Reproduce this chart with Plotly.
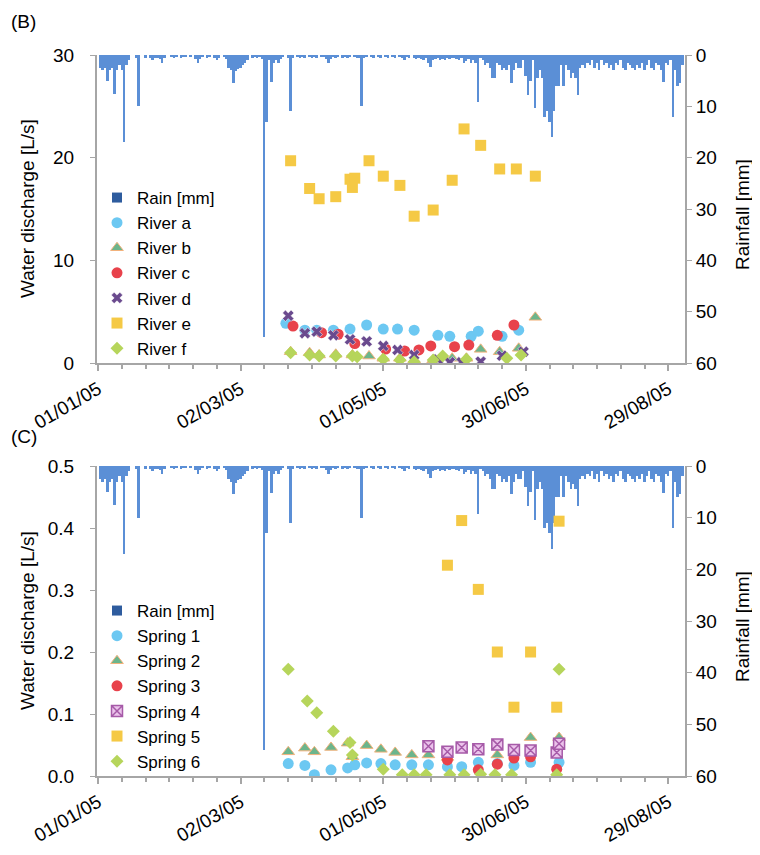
import plotly.graph_objects as go
import pandas as pd

# ---------------- data ----------------
# daily rainfall [mm] starting 2005-01-01
rain_start = "2005-01-01"
rain_mm = [
    0, 2.5, 3, 2.5, 5, 3, 2.5, 7.5, 3, 2, 3, 17, 2, 1, 0, 0, 0.5, 10, 0, 0,
    0.5, 0, 0.5, 1, 0.5, 0.5, 0.8, 1.5, 0.5, 0, 0, 0.3, 0.5, 0.3, 0, 0.5, 0.3, 0.4, 0, 0.3,
    0, 0.8, 1.5, 0.8, 0.3, 0, 0.5, 0.4, 0, 0.5, 1, 0.5, 0, 0.3, 0.8, 2.5, 3, 5.5, 3.2, 2.8,
    2.5, 2, 1.5, 1, 0, 0.5, 0.4, 0.5, 0.3, 0.8, 55, 13, 1, 5.3, 1.5, 1, 1.5, 0.8, 0.3, 0,
    0.5, 11, 0.5, 0, 0.3, 0.5, 0.3, 0.5, 0, 0.4, 0.5, 0.3, 0.5, 0, 0.4, 0.3, 0.8, 1.5, 0.8, 0.3,
    0.5, 0.4, 0, 0.5, 0.3, 0.5, 0.4, 0, 0.3, 0.5, 0.5, 10, 0.5, 0.3, 0, 0.4, 0.5, 0, 0.3, 0.5,
    0, 0.4, 0.5, 0, 0.3, 0.5, 0, 0.4, 0.5, 1, 0.3, 0.5, 0, 0.5, 0.8, 0.5, 0.8, 1, 0.5, 1.5,
    2.3, 1, 0.8, 0.5, 1, 0.8, 1, 0.5, 0.8, 0.5, 0.5, 0.8, 1, 0.5, 1.5, 1.2, 0.8, 1.5, 1, 1.5,
    9.2, 0.5, 1, 2, 1.5, 2.5, 4.5, 4.5, 1.5, 2, 3, 2.5, 3, 2, 5.4, 3, 1.5, 2.5, 2.5, 1,
    4, 7.8, 5, 1, 10.4, 4.5, 3, 4.5, 12, 11, 13, 16, 11, 6, 6, 2, 6, 2, 3, 4.5,
    3.5, 4.5, 7.8, 2.5, 2, 2.5, 1.5, 2, 1, 2.5, 1.5, 3, 1, 2, 1.5, 2.5, 2, 3, 1.5, 2,
    1, 2.5, 3, 1.5, 2, 2.5, 3, 2, 2.5, 1.5, 3, 2, 1, 2.5, 3, 1.5, 2, 3, 5.2, 1.5,
    2, 1, 12, 3, 6, 5.5, 2,
]

# Panel B – rivers [L/s]
river_a_dates = ["2005-03-21", "2005-03-29", "2005-04-03", "2005-04-10", "2005-04-17", "2005-04-24",
                 "2005-05-01", "2005-05-07", "2005-05-14", "2005-05-24", "2005-05-29", "2005-06-07",
                 "2005-06-10", "2005-06-20", "2005-06-27"]
river_a = [3.86, 3.2, 3.2, 3.2, 3.3, 3.7, 3.3, 3.3, 3.2, 2.7, 2.6, 2.6, 3.1, 2.6, 3.2]

river_b_dates = ["2005-03-23", "2005-03-31", "2005-04-04", "2005-04-11", "2005-04-18", "2005-04-25",
                 "2005-05-01", "2005-05-08", "2005-05-14", "2005-05-22", "2005-05-30", "2005-06-05",
                 "2005-06-11", "2005-06-19", "2005-06-27", "2005-07-04"]
river_b = [1.1, 1.0, 0.78, 0.85, 0.78, 0.68, 0.46, 0.46, 0.29, 0.29, 0.46, 0.46, 1.33, 1.1, 1.43, 4.45]

river_c_dates = ["2005-03-24", "2005-04-05", "2005-04-12", "2005-04-19", "2005-05-02", "2005-05-10",
                 "2005-05-16", "2005-05-21", "2005-05-31", "2005-06-06", "2005-06-18", "2005-06-25"]
river_c = [3.6, 2.95, 2.8, 1.9, 1.36, 1.17, 1.27, 1.66, 1.59, 1.75, 2.7, 3.7]

river_d_dates = ["2005-03-22", "2005-03-29", "2005-04-03", "2005-04-10", "2005-04-17", "2005-04-24",
                 "2005-05-01", "2005-05-07", "2005-05-14", "2005-05-24", "2005-05-29", "2005-06-03",
                 "2005-06-11", "2005-06-20", "2005-06-29"]
river_d = [4.6, 2.9, 3.05, 2.7, 2.3, 2.1, 1.66, 1.27, 0.78, 0.36, 0.07, 0.07, 0.13, 0.71, 1.1]

river_e_dates = ["2005-03-23", "2005-03-31", "2005-04-04", "2005-04-11", "2005-04-17", "2005-04-18",
                 "2005-04-19", "2005-04-25", "2005-05-01", "2005-05-08", "2005-05-14", "2005-05-22",
                 "2005-05-30", "2005-06-04", "2005-06-11", "2005-06-19", "2005-06-26", "2005-07-04"]
river_e = [19.7, 17.0, 16.0, 16.2, 17.9, 17.1, 18.0, 19.7, 18.2, 17.3, 14.3, 14.9, 17.8, 22.8,
           21.2, 18.9, 18.9, 18.2]

river_f_dates = ["2005-03-23", "2005-03-31", "2005-04-04", "2005-04-11", "2005-04-18", "2005-04-20",
                 "2005-05-01", "2005-05-08", "2005-05-14", "2005-05-22", "2005-05-26", "2005-06-05",
                 "2005-06-22", "2005-06-28"]
river_f = [1.0, 0.78, 0.68, 0.68, 0.68, 0.6, 0.36, 0.29, 0.13, 0.29, 0.68, 0.36, 0.46, 0.78]

# Panel C – springs [L/s]
spring_1_dates = ["2005-03-22", "2005-03-29", "2005-04-02", "2005-04-09", "2005-04-16", "2005-04-19",
                  "2005-04-24", "2005-04-30", "2005-05-06", "2005-05-13", "2005-05-20", "2005-05-28",
                  "2005-06-03", "2005-06-10", "2005-06-18", "2005-06-25", "2005-07-02", "2005-07-14"]
spring_1 = [0.020, 0.017, 0.002, 0.010, 0.013, 0.018, 0.021, 0.020, 0.018, 0.018, 0.018, 0.015,
            0.015, 0.022, 0.020, 0.017, 0.022, 0.022]

spring_2_dates = ["2005-03-22", "2005-03-29", "2005-04-02", "2005-04-09", "2005-04-16", "2005-04-18",
                  "2005-04-24", "2005-04-30", "2005-05-06", "2005-05-13", "2005-05-20", "2005-05-28",
                  "2005-06-18", "2005-07-02", "2005-07-14"]
spring_2 = [0.039, 0.045, 0.039, 0.046, 0.053, 0.031, 0.049, 0.043, 0.038, 0.034, 0.034, 0.030,
            0.034, 0.062, 0.062]

spring_3_dates = ["2005-05-28", "2005-06-10", "2005-06-18", "2005-06-25", "2005-07-02", "2005-07-13",
                  "2005-07-14"]
spring_3 = [0.026, 0.010, 0.019, 0.029, 0.031, 0.011, 0.048]

spring_4_dates = ["2005-05-20", "2005-05-28", "2005-06-03", "2005-06-10", "2005-06-18", "2005-06-25",
                  "2005-07-02", "2005-07-13", "2005-07-14"]
spring_4 = [0.048, 0.039, 0.046, 0.043, 0.051, 0.042, 0.041, 0.038, 0.052]

spring_5_dates = ["2005-05-28", "2005-06-03", "2005-06-10", "2005-06-18", "2005-06-25", "2005-07-02",
                  "2005-07-13", "2005-07-14"]
spring_5 = [0.340, 0.412, 0.301, 0.200, 0.111, 0.200, 0.111, 0.411]

spring_6_dates = ["2005-03-22", "2005-03-30", "2005-04-03", "2005-04-10", "2005-04-17", "2005-04-18",
                  "2005-05-01", "2005-05-09", "2005-05-14", "2005-05-19", "2005-05-29", "2005-06-04",
                  "2005-06-11", "2005-06-17", "2005-06-24", "2005-07-13", "2005-07-14"]
spring_6 = [0.172, 0.121, 0.102, 0.072, 0.054, 0.034, 0.011, 0.002, 0.002, 0.002, 0.002, 0.002,
            0.003, 0.002, 0.002, 0.002, 0.172]

date_ticks_start = "2005-01-01"
date_range = ["2004-12-31 12:00", "2005-09-05"]
b_ticks = [0, 10, 20, 30]
c_ticks = [0.0, 0.1, 0.2, 0.3, 0.4, 0.5]
rain_ticks = [0, 10, 20, 30, 40, 50, 60]

# ---------------- styling ----------------
FONT = "Liberation Sans, Arial, Helvetica, sans-serif"
RAIN_COLOR = "#5B8FD6"
AXIS_COLOR = "#A6A6A6"
DAY = 86400000

styles = {
    "a": dict(symbol="circle", size=11, color="#6CC8F2", line=dict(width=0)),
    "b": dict(symbol="triangle-up", size=11, color="#6CB58C", line=dict(width=1, color="#F2B27C")),
    "c": dict(symbol="circle", size=11, color="#E8424B", line=dict(width=0)),
    "d": dict(symbol="x", size=10, color="#6A4A8E", line=dict(width=0.5, color="white")),
    "e": dict(symbol="square", size=11, color="#F5C945", line=dict(width=0)),
    "f": dict(symbol="diamond", size=10, color="#B6D55B", line=dict(width=0)),
}
spring_styles = {
    "1": styles["a"],
    "2": styles["b"],
    "3": styles["c"],
    "4": dict(symbol="square-x", size=11, color="#EBC3EB", line=dict(width=1.5, color="#A65AA8")),
    "5": styles["e"],
    "6": styles["f"],
}

rain_dates = pd.date_range(rain_start, periods=len(rain_mm), freq="D")

fig = go.Figure()

# ---- Panel B ----
fig.add_trace(go.Bar(x=rain_dates, y=rain_mm, xaxis="x", yaxis="y", marker=dict(color=RAIN_COLOR, line=dict(width=0)),
                     width=0.8 * DAY, showlegend=False, name="Rain [mm]"))
fig.add_trace(go.Scatter(x=[None], y=[None], xaxis="x", yaxis="y2", mode="markers", name="Rain [mm]",
                         marker=dict(symbol="square", size=10, color="#2E5C9E"), legend="legend"))
for key, dates, vals in [("a", river_a_dates, river_a), ("b", river_b_dates, river_b),
                         ("c", river_c_dates, river_c), ("d", river_d_dates, river_d),
                         ("e", river_e_dates, river_e), ("f", river_f_dates, river_f)]:
    fig.add_trace(go.Scatter(x=dates, y=vals, xaxis="x", yaxis="y2", mode="markers",
                             name=f"River {key}", marker=styles[key], legend="legend"))

# ---- Panel C ----
fig.add_trace(go.Bar(x=rain_dates, y=rain_mm, xaxis="x2", yaxis="y3", marker=dict(color=RAIN_COLOR, line=dict(width=0)),
                     width=0.8 * DAY, showlegend=False, name="Rain [mm]"))
fig.add_trace(go.Scatter(x=[None], y=[None], xaxis="x2", yaxis="y4", mode="markers", name="Rain [mm]",
                         marker=dict(symbol="square", size=10, color="#2E5C9E"), legend="legend2"))
for key, dates, vals in [("1", spring_1_dates, spring_1), ("2", spring_2_dates, spring_2),
                         ("3", spring_3_dates, spring_3), ("4", spring_4_dates, spring_4),
                         ("5", spring_5_dates, spring_5), ("6", spring_6_dates, spring_6)]:
    fig.add_trace(go.Scatter(x=dates, y=vals, xaxis="x2", yaxis="y4", mode="markers",
                             name=f"Spring {key}", marker=spring_styles[key], legend="legend2"))

# geometry (pixels); page body has an 8px margin
OFF = 8
W, H = 760 - OFF, 855 - OFF
ML, MR, MT, MB = 97 - OFF, 75, 55 - OFF, 79
PH = H - MT - MB
PW = W - ML - MR


def py(ypx):
    return (H - MB - (ypx - OFF)) / PH


def px(xpx):
    return ((xpx - OFF) - ML) / PW


tickfont = dict(family=FONT, size=19, color="black")

xcommon = dict(type="date", range=date_range, tick0=date_ticks_start, dtick=60 * DAY,
               tickformat="%d/%m/%y", tickangle=-30, ticks="outside", ticklen=6, tickwidth=1.5,
               tickcolor=AXIS_COLOR, showline=True, linecolor=AXIS_COLOR, linewidth=2,
               showgrid=False, zeroline=False, tickfont=tickfont,
               minor=dict(dtick=10 * DAY, tick0=date_ticks_start, ticks="outside", ticklen=4,
                          tickcolor=AXIS_COLOR, showgrid=False))

rain_axis = dict(side="right", range=[60, 0], tickvals=rain_ticks, ticks="outside", ticklen=5,
                 tickcolor=AXIS_COLOR, showline=True, linecolor=AXIS_COLOR, linewidth=2,
                 showgrid=False, zeroline=False, tickfont=tickfont)

left_axis = dict(side="left", ticks="outside", ticklen=5, tickcolor=AXIS_COLOR, showline=True,
                 linecolor=AXIS_COLOR, linewidth=2, showgrid=False, zeroline=False,
                 tickfont=tickfont, ticklabelstandoff=12)

title_font = dict(family=FONT, size=19, color="black")

fig.update_layout(
    width=W, height=H,
    margin=dict(l=ML, r=MR, t=MT, b=MB, autoexpand=False),
    paper_bgcolor="white", plot_bgcolor="white",
    font=dict(family=FONT, size=17, color="black"),
    bargap=0,
    xaxis=dict(domain=[0, 1], anchor="y", **xcommon),
    yaxis=dict(domain=[py(363), 1], anchor="x", **rain_axis),
    yaxis2=dict(overlaying="y", anchor="x", range=[0, 30], tickvals=b_ticks, **left_axis),
    xaxis2=dict(domain=[0, 1], anchor="y3", matches="x", **xcommon),
    yaxis3=dict(domain=[0, py(466)], anchor="x2", **rain_axis),
    yaxis4=dict(overlaying="y3", anchor="x2", range=[0, 0.5], tickvals=c_ticks, tickformat=".1f",
                **left_axis),
    legend=dict(x=0, y=py(180), xanchor="left", yanchor="top", bgcolor="rgba(0,0,0,0)",
                font=dict(family=FONT, size=17, color="black"), itemwidth=30),
    legend2=dict(x=0, y=py(593), xanchor="left", yanchor="top", bgcolor="rgba(0,0,0,0)",
                 font=dict(family=FONT, size=17, color="black"), itemwidth=30),
    annotations=[
        dict(text="(B)", x=px(9), y=py(21), xref="paper", yref="paper", xanchor="left",
             yanchor="middle", showarrow=False, font=title_font),
        dict(text="(C)", x=px(9), y=py(436), xref="paper", yref="paper", xanchor="left",
             yanchor="middle", showarrow=False, font=title_font),
        dict(text="Water discharge [L/s]", x=px(27), y=py(209), xref="paper", yref="paper",
             xanchor="center", yanchor="middle", textangle=-90, showarrow=False, font=title_font),
        dict(text="Rainfall [mm]", x=px(742), y=py(215), xref="paper", yref="paper",
             xanchor="center", yanchor="middle", textangle=-90, showarrow=False, font=title_font),
        dict(text="Water discharge [L/s]", x=px(27), y=py(621), xref="paper", yref="paper",
             xanchor="center", yanchor="middle", textangle=-90, showarrow=False, font=title_font),
        dict(text="Rainfall [mm]", x=px(742), y=py(627), xref="paper", yref="paper",
             xanchor="center", yanchor="middle", textangle=-90, showarrow=False, font=title_font),
    ],
)

fig.write_html("out.html")
